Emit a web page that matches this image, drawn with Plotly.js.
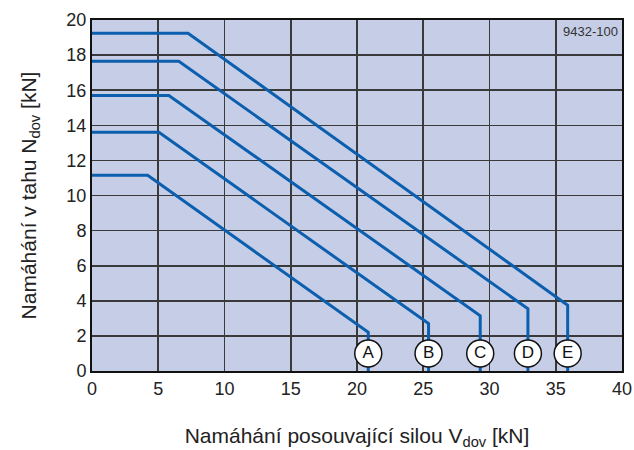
<!DOCTYPE html>
<html>
<head>
<meta charset="utf-8">
<script src="https://cdn.plot.ly/plotly-3.0.1.min.js"></script>
<style>html,body{margin:0;padding:0;background:#fff;}#chart{width:634px;height:450px;}</style>
</head>
<body>
<div id="chart"></div>
<script>
// Curve data
const curveLabels = ["A", "B", "C", "D", "E"];
const flatN = [11.15, 13.6, 15.7, 17.65, 19.25];   // constant tension level [kN]
const kneeV = [4.2, 5.05, 5.8, 6.55, 7.25];        // shear at end of flat part [kN]
const endV  = [20.85, 25.4, 29.3, 32.9, 35.9];     // max shear [kN]
const endN  = [2.2, 2.7, 3.15, 3.55, 3.75];        // tension at max shear [kN]
const labelN = [1, 1, 1, 1, 1];                     // level of circled labels
const xTicks = [0, 5, 10, 15, 20, 25, 30, 35, 40];
const yTicks = [0, 2, 4, 6, 8, 10, 12, 14, 16, 18, 20];

const lineColor = "#0b5fae";
const traces = [];
curveLabels.forEach((lab, i) => {
  traces.push({
    type: "scatter", mode: "lines",
    x: [0, kneeV[i], endV[i], endV[i]],
    y: [flatN[i], flatN[i], endN[i], 0],
    line: {color: lineColor, width: 3},
    hoverinfo: "skip", showlegend: false, cliponaxis: false
  });
});
traces.push({
  type: "scatter", mode: "markers+text",
  x: endV, y: labelN, text: curveLabels,
  textposition: "middle center",
  textfont: {family: "Liberation Sans, Arial, sans-serif", size: 17, color: "#111"},
  marker: {symbol: "circle", size: 27, color: "#ffffff", line: {color: "#111", width: 1.5}},
  showlegend: false, hoverinfo: "skip"
});

const font = {family: "Liberation Sans, Arial, sans-serif", size: 18, color: "#222"};
const layout = {
  width: 634, height: 450,
  margin: {l: 92, r: 12, t: 20, b: 79},
  paper_bgcolor: "#ffffff",
  plot_bgcolor: "#c6cee7",
  font: font,
  showlegend: false,
  xaxis: {
    range: [0, 40], tickvals: xTicks, ticktext: xTicks.map(String),
    showgrid: true, gridcolor: "#3a3a3a", gridwidth: 1.6,
    showline: true, linecolor: "#111", linewidth: 2, mirror: true,
    zeroline: false, ticks: "", ticklen: 0, tickfont: font,
    title: {text: "Namáhání posouvající silou V<sub>dov</sub> [kN]", font: {family: font.family, size: 21, color: "#222"}, standoff: 33}
  },
  yaxis: {
    range: [0, 20], tickvals: yTicks, ticktext: yTicks.map(String),
    showgrid: true, gridcolor: "#3a3a3a", gridwidth: 1.6,
    showline: true, linecolor: "#111", linewidth: 2, mirror: true,
    zeroline: false, ticks: "", ticklen: 0, tickfont: font,
    title: {text: "Namáhání v tahu N<sub>dov</sub> [kN]", font: {family: font.family, size: 21, color: "#222"}, standoff: 24}
  },
  annotations: [{
    xref: "paper", yref: "paper", x: 1, y: 1, xanchor: "right", yanchor: "top",
    text: "9432-100", showarrow: false,
    font: {family: "Liberation Sans Narrow, Liberation Sans, Arial, sans-serif", size: 13, color: "#333"},
    xshift: -2, yshift: -2
  }]
};

Plotly.newPlot("chart", traces, layout, {displayModeBar: false, staticPlot: true});
</script>
</body>
</html>
